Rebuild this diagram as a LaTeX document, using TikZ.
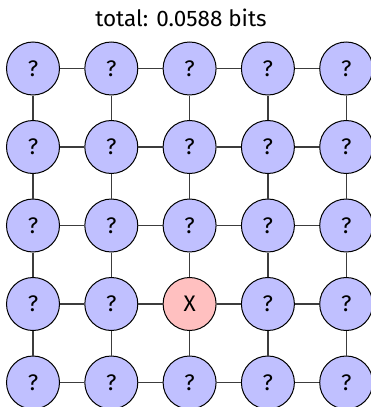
\documentclass[tikz,border=0pt]{standalone}
\usepackage{fontspec}
\setmainfont{Fira Sans}
\definecolor{qblue}{RGB}{192,192,255}
\definecolor{qred}{RGB}{255,192,192}
\definecolor{edgec}{RGB}{60,60,60}
\begin{document}
\begin{tikzpicture}[x=1pt,y=-1pt,
  var/.style={circle,draw=black,line width=1pt,fill=qblue,minimum size=53pt,inner sep=0pt,font=\fontsize{22.5}{22.5}\selectfont},
  obs/.style={var,fill=qred},
  link/.style={draw=edgec,line width=1.2pt}]
\useasboundingbox (0,0) rectangle (371,407);
\clip (0,0) rectangle (371,407);
\node[font=\fontsize{22.5}{23}\selectfont] (title) at (181,18) {total: 0.0588 bits};
\foreach \i in {0,...,4}{
  \foreach \j in {0,...,4}{
    \pgfmathsetmacro{\cx}{33+78.3*\i}
    \pgfmathsetmacro{\cy}{68.5+78.5*\j}
    \ifnum\i=2 \ifnum\j=3
      \node[obs] (n\i\j) at (\cx,\cy) {X};
    \else
      \node[var] (n\i\j) at (\cx,\cy) {?};
    \fi\else
      \node[var] (n\i\j) at (\cx,\cy) {?};
    \fi
  }
}
\foreach \i in {0,...,4}{
  \foreach \j [count=\k] in {0,...,3}{
    \draw[link] (n\i\j) -- (n\i\k);
    \draw[link] (n\j\i) -- (n\k\i);
  }
}
\end{tikzpicture}
\end{document}
